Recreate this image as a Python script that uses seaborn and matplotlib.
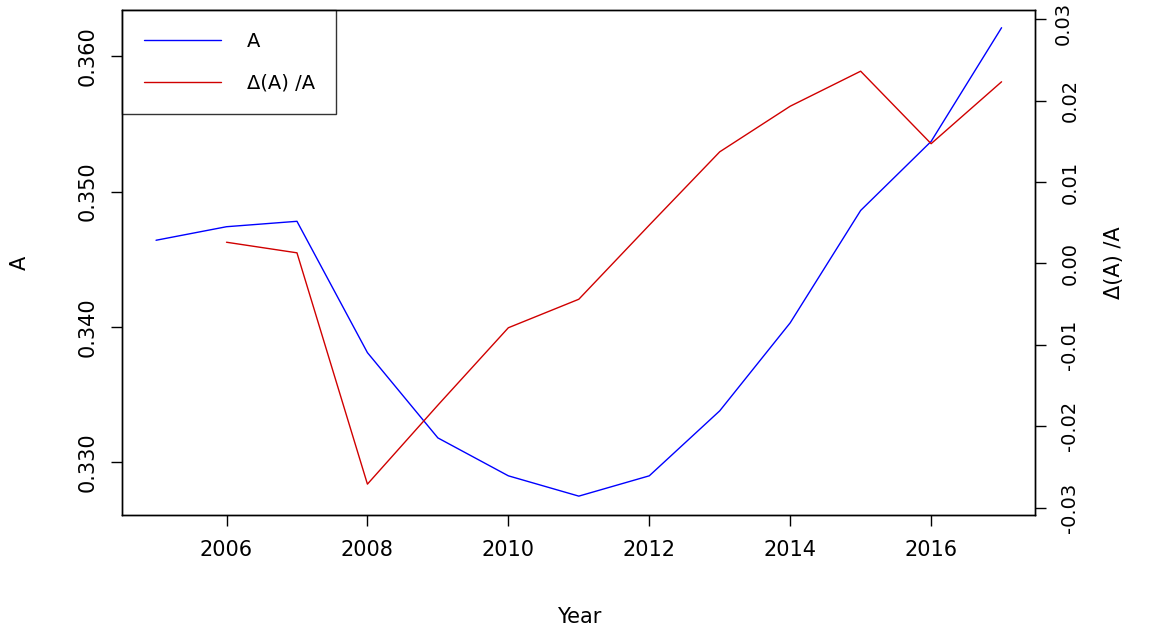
import matplotlib
matplotlib.use("Agg")
import matplotlib.pyplot as plt
import seaborn as sns
import pandas as pd

years = [2005, 2006, 2007, 2008, 2009, 2010, 2011, 2012, 2013, 2014, 2015, 2016, 2017]
a_vals = [0.3464, 0.3474, 0.3478, 0.3381, 0.3318, 0.3290, 0.3275, 0.3290, 0.3338, 0.3403, 0.3486, 0.3537, 0.3621]
d_years = [2006, 2007, 2008, 2009, 2010, 2011, 2012, 2013, 2014, 2015, 2016, 2017]
d_vals = [0.0026, 0.0013, -0.0271, -0.0174, -0.0079, -0.0044, 0.0047, 0.0137, 0.0193, 0.0236, 0.0147, 0.0223]
left_ticks = [0.330, 0.340, 0.350, 0.360]
right_ticks = [-0.03, -0.02, -0.01, 0.00, 0.01, 0.02, 0.03]
x_ticks = [2006, 2008, 2010, 2012, 2014, 2016]

sns.set_style("white")
plt.rcParams['font.family'] = ['DejaVu Sans']
plt.rcParams['text.color'] = 'black'
plt.rcParams['axes.labelcolor'] = 'black'
fig = plt.figure(figsize=(11.53, 6.32), dpi=100)
ax = fig.add_axes([0.106, 0.185, 0.792, 0.799])
df1 = pd.DataFrame({"Year": years, "A": a_vals})
df2 = pd.DataFrame({"Year": d_years, "D": d_vals})
sns.lineplot(data=df1, x="Year", y="A", color="blue", lw=1, ax=ax, legend=False)
ax2 = ax.twinx()
sns.lineplot(data=df2, x="Year", y="D", color="#d00000", lw=1, ax=ax2, legend=False)

ax.set_xlim(2004.52, 2017.48)
ax.set_ylim(0.3261, 0.3634)
ax2.set_ylim(-0.0309, 0.0311)
ax.set_xticks(x_ticks)
ax.set_yticks(left_ticks)
ax.set_yticklabels([f"{v:.3f}" for v in left_ticks], rotation=90, va="center")
ax2.set_yticks(right_ticks)
rlabels = [f"{v:.2f}" for v in right_ticks]
ax2.set_yticklabels(rlabels[:-1] + [""], rotation=90, va="center", fontsize=14)
ax2.annotate(rlabels[-1], xy=(1, right_ticks[-1]), xycoords=("axes fraction", "data"),
             xytext=(13, -3), textcoords="offset points", rotation=90,
             ha="left", va="center", fontsize=14, annotation_clip=False)
ax.tick_params(bottom=True, left=True)
ax2.tick_params(right=True)
for a in (ax, ax2):
    a.tick_params(direction="out", length=8, width=1, colors="black", pad=10)
    for s in a.spines.values():
        s.set_color("black"); s.set_linewidth(1)
ax.tick_params(labelsize=15)
ax.set_xlabel("Year", fontsize=15, labelpad=34)
ax.set_ylabel("A", fontsize=15, labelpad=34)
ax2.set_ylabel("Δ(A) /A", fontsize=15, labelpad=18)

from matplotlib.lines import Line2D
handles = [Line2D([], [], color="blue", lw=1), Line2D([], [], color="#d00000", lw=1)]
leg = ax.legend(handles, ["A", "Δ(A) /A"], loc="upper left", bbox_to_anchor=(0, 1),
                borderaxespad=0, fontsize=14, frameon=True, fancybox=False,
                handlelength=4, borderpad=1.1, labelspacing=1.2, handletextpad=1.3)
leg.get_frame().set_edgecolor("black")
leg.get_frame().set_linewidth(1)
fig.savefig("out.png", dpi=100)
